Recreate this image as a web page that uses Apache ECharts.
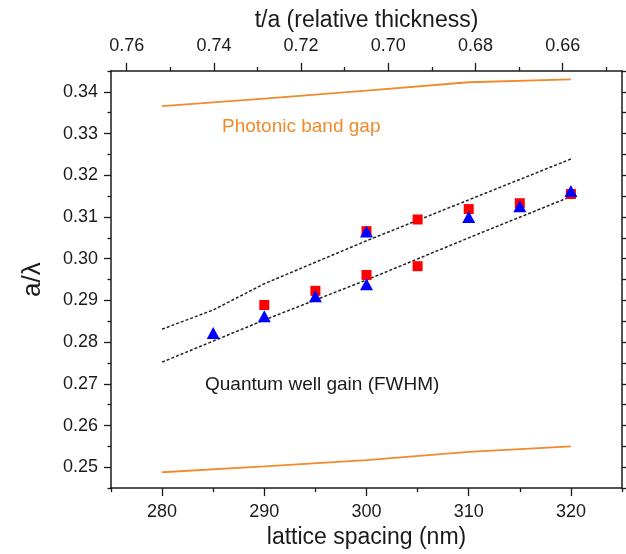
<!DOCTYPE html>
<html lang="en" style="height: 100%">
<head>
    <meta charset="UTF-8">
    <title>a/lambda vs lattice spacing</title>
    <script src="https://cdn.jsdelivr.net/npm/echarts@6/dist/echarts.min.js"></script>
</head>
<body style="height: 100%; margin: 0; background: #fff">
    <div id="main" style="width: 626px; height: 554px"></div>
    <script>
        // tick positions / labels
        var xTicks = [280, 290, 300, 310, 320];
        var xMinor = [275, 285, 295, 305, 315, 325];
        var taTicks = [0.66, 0.68, 0.70, 0.72, 0.74, 0.76];
        var taMinor = [0.65, 0.67, 0.69, 0.71, 0.73, 0.75];
        var yTicks = [0.25, 0.26, 0.27, 0.28, 0.29, 0.30, 0.31, 0.32, 0.33, 0.34];
        var yMinor = [0.245, 0.255, 0.265, 0.275, 0.285, 0.295, 0.305, 0.315, 0.325, 0.335, 0.345];

        // measured points (red squares, blue triangles)
        var squareX = [290, 295, 300, 300, 305, 305, 310, 315, 320];
        var squareY = [0.2889, 0.2923, 0.2961, 0.3066, 0.3094, 0.2982, 0.3119, 0.3133, 0.3155];
        var triX = [285, 290, 295, 300, 300, 310, 315, 320];
        var triY = [0.2822, 0.2862, 0.2910, 0.2939, 0.3065, 0.3100, 0.3126, 0.3162];

        // quantum well gain (FWHM) bounds, dashed
        var qwUpperX = [280, 285, 290, 300, 310, 320];
        var qwUpperY = [0.2831, 0.2877, 0.2940, 0.3043, 0.3141, 0.3239];
        var qwLowerX = [280, 290, 300, 310, 320];
        var qwLowerY = [0.2752, 0.2853, 0.2949, 0.3050, 0.3149];

        // photonic band gap edges, orange
        var pbgX = [280, 290, 300, 310, 320];
        var pbgUpper = [0.3366, 0.3384, 0.3403, 0.3423, 0.3430];
        var pbgLower = [0.2488, 0.2502, 0.2517, 0.2537, 0.2550];

        function pairs(xs, ys) {
            return xs.map(function (x, i) { return [x, ys[i]]; });
        }

        var FONT = 'Liberation Sans';
        var INK = '#1a1a1a';
        var ORANGE = '#f18a2a';
        var axisLine = { show: true, onZero: false, lineStyle: { color: INK, width: 1.5 } };
        var noLine = { show: false, onZero: false };

        var myChart = echarts.init(document.getElementById('main'));

        var option = {
            animation: false,
            backgroundColor: '#fff',
            textStyle: { fontFamily: FONT },
            grid: { left: 111, right: 4, top: 71, bottom: 65 },
            xAxis: [
                {
                    type: 'value', position: 'bottom', min: 275, max: 325,
                    axisLine: axisLine,
                    axisTick: { length: 8, customValues: xTicks, lineStyle: { color: INK, width: 1.3 } },
                    axisLabel: { customValues: xTicks, margin: 15, fontSize: 18, color: INK },
                    splitLine: { show: false },
                    name: 'lattice spacing (nm)', nameLocation: 'middle', nameGap: 35,
                    nameTextStyle: { fontSize: 23, color: INK }
                },
                {
                    type: 'value', position: 'bottom', min: 275, max: 325,
                    axisLine: noLine,
                    axisTick: { length: 4, customValues: xMinor, lineStyle: { color: INK, width: 1.3 } },
                    axisLabel: { show: false },
                    splitLine: { show: false }
                },
                {
                    type: 'value', position: 'top', min: 0.6464, max: 0.7636, inverse: true,
                    axisLine: axisLine,
                    axisTick: { length: 8, customValues: taTicks, lineStyle: { color: INK, width: 1.3 } },
                    axisLabel: {
                        customValues: taTicks, margin: 16, fontSize: 18, color: INK,
                        formatter: function (v) { return v.toFixed(2); }
                    },
                    splitLine: { show: false },
                    name: 't/a (relative thickness)', nameLocation: 'middle', nameGap: 39,
                    nameTextStyle: { fontSize: 23, color: INK }
                },
                {
                    type: 'value', position: 'top', min: 0.6464, max: 0.7636, inverse: true,
                    axisLine: noLine,
                    axisTick: { length: 4, customValues: taMinor, lineStyle: { color: INK, width: 1.3 } },
                    axisLabel: { show: false },
                    splitLine: { show: false }
                }
            ],
            yAxis: [
                {
                    type: 'value', position: 'left', min: 0.245, max: 0.345,
                    axisLine: axisLine,
                    axisTick: { length: 7, customValues: yTicks, lineStyle: { color: INK, width: 1.3 } },
                    axisLabel: {
                        customValues: yTicks, margin: 13, fontSize: 18, color: INK,
                        formatter: function (v) { return v.toFixed(2); }
                    },
                    splitLine: { show: false },
                    name: 'a/λ', nameLocation: 'middle', nameRotate: 90, nameGap: 65,
                    nameTextStyle: { fontSize: 26, color: INK }
                },
                {
                    type: 'value', position: 'left', min: 0.245, max: 0.345,
                    axisLine: noLine,
                    axisTick: { length: 3.5, customValues: yMinor, lineStyle: { color: INK, width: 1.3 } },
                    axisLabel: { show: false },
                    splitLine: { show: false }
                },
                {
                    type: 'value', position: 'right', min: 0.245, max: 0.345,
                    axisLine: axisLine,
                    axisTick: { length: 5, customValues: yTicks.concat(yMinor), lineStyle: { color: INK, width: 1.3 } },
                    axisLabel: { show: false },
                    splitLine: { show: false }
                }
            ],
            graphic: [
                {
                    type: 'text', x: 222, y: 127,
                    style: { text: 'Photonic band gap', fill: ORANGE, fontSize: 19, fontFamily: FONT, verticalAlign: 'middle' }
                },
                {
                    type: 'text', x: 205, y: 385,
                    style: { text: 'Quantum well gain (FWHM)', fill: INK, fontSize: 19, fontFamily: FONT, verticalAlign: 'middle' }
                }
            ],
            series: [
                {
                    type: 'line', data: pairs(pbgX, pbgUpper), symbol: 'none',
                    lineStyle: { color: ORANGE, width: 1.8 }, z: 2
                },
                {
                    type: 'line', data: pairs(pbgX, pbgLower), symbol: 'none',
                    lineStyle: { color: ORANGE, width: 1.8 }, z: 2
                },
                {
                    type: 'line', data: pairs(qwUpperX, qwUpperY), symbol: 'none',
                    lineStyle: { color: '#222', width: 1.5, type: [3, 2] }, z: 2
                },
                {
                    type: 'line', data: pairs(qwLowerX, qwLowerY), symbol: 'none',
                    lineStyle: { color: '#222', width: 1.5, type: [3, 2] }, z: 2
                },
                {
                    type: 'scatter', data: pairs(squareX, squareY), symbol: 'rect', symbolSize: 10,
                    itemStyle: { color: '#ff0000', opacity: 1 }, z: 3
                },
                {
                    type: 'scatter', data: pairs(triX, triY), symbol: 'triangle', symbolSize: [13, 12],
                    itemStyle: { color: '#0000ff', opacity: 1 }, z: 4
                }
            ]
        };

        myChart.setOption(option);
    </script>
</body>
</html>
